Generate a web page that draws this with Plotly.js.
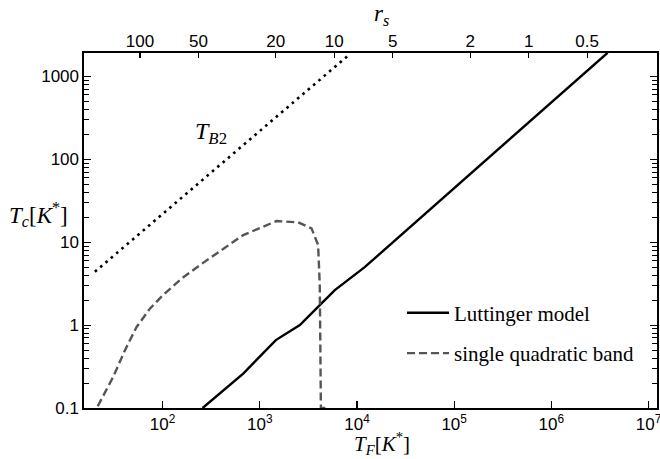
<!DOCTYPE html>
<html>
<head>
<meta charset="utf-8">
<script src="https://cdn.plot.ly/plotly-3.0.1.min.js"></script>
<style>html,body{margin:0;padding:0;background:#fff}#chart{width:660px;height:459px}</style>
</head>
<body>
<div id="chart"></div>
<script>
// Luttinger model (solid)
const lutTF = [258, 675, 1462, 2582, 4140, 5915, 12000, 3.79e6];
const lutTc = [0.1, 0.26, 0.66, 1.0, 1.74, 2.64, 5.0, 1930];
// single quadratic band (dashed)
const sqbTF = [21.5, 31, 41.7, 54, 74, 101, 155, 242, 675, 1486, 2477, 3405, 3981, 4140, 4200, 4250, 4850];
const sqbTc = [0.105, 0.237, 0.52, 0.95, 1.58, 2.3, 3.6, 5.3, 12.2, 18.0, 17.4, 14.7, 9.25, 3.0, 0.5, 0.1, 0.1];
// T_B2 (dotted)
const tb2TF = [20.1, 8300];
const tb2Tc = [4.4, 1830];
// bottom axis ticks
const xTickVals = [1e2, 1e3, 1e4, 1e5, 1e6, 1e7];
const xTickText = ['10<sup>2</sup>', '10<sup>3</sup>', '10<sup>4</sup>', '10<sup>5</sup>', '10<sup>6</sup>', '10<sup>7</sup>'];
// top axis: r_s values and corresponding T_F positions
const rsLabels = ['100', '50', '20', '10', '5', '2', '1', '0.5'];
const rsTF = [58.4, 233.6, 1460, 5840, 23360, 146000, 584000, 2336000];
// y ticks
const yTickVals = [0.1, 1, 10, 100, 1000];
const yTickText = ['0.1', '1', '10', '100', '1000'];
const yMinorVals = [0.2,0.3,0.4,0.5,0.6,0.7,0.8,0.9, 2,3,4,5,6,7,8,9, 20,30,40,50,60,70,80,90, 200,300,400,500,600,700,800,900];

const serif = 'Liberation Serif, DejaVu Serif, serif';
const sans = 'Liberation Sans, Arial, sans-serif';
const xr = [1.191, 7.087];
const yr = [-1, 3.283];

const traces = [
  {x: tb2TF, y: tb2Tc, mode: 'lines', line: {color: '#000', width: 2.6, dash: '2.6px,4.4px'}, showlegend: false, hoverinfo: 'skip'},
  {x: lutTF, y: lutTc, mode: 'lines', name: 'Luttinger model', legendgroup: 'a', line: {color: '#000', width: 2.4}},
  {x: sqbTF, y: sqbTc, mode: 'lines', name: 'single quadratic band', legendgroup: 'b', line: {color: '#555', width: 2.4, dash: '8px,4px'}},
  {x: rsTF, y: rsTF.map(() => 1), xaxis: 'x2', mode: 'lines', line: {width: 0}, showlegend: false, hoverinfo: 'skip'},
  {x: yMinorVals.map(() => 100), y: yMinorVals, yaxis: 'y2', mode: 'lines', line: {width: 0}, showlegend: false, hoverinfo: 'skip'},
  {x: yMinorVals.map(() => 100), y: yMinorVals, yaxis: 'y3', mode: 'lines', line: {width: 0}, showlegend: false, hoverinfo: 'skip'}
];

const minorAxis = (side) => ({type: 'log', range: yr, overlaying: 'y', side: side, anchor: 'x', showgrid: false, zeroline: false,
  showline: false, ticks: 'inside', ticklen: 5, tickwidth: 1, tickcolor: '#000', tickmode: 'array', tickvals: yMinorVals, showticklabels: false});

const layout = {
  width: 660, height: 459,
  margin: {l: 84, r: 3, t: 53, b: 51},
  paper_bgcolor: '#fff', plot_bgcolor: '#fff',
  showlegend: true,
  legend: {x: 0.555, y: 0.325, xanchor: 'left', yanchor: 'top', bgcolor: 'rgba(0,0,0,0)', itemwidth: 42,
           font: {family: serif, size: 21, color: '#000'}, tracegroupgap: 10, traceorder: 'grouped'},
  xaxis: {type: 'log', range: xr, showgrid: false, zeroline: false, showline: true, linecolor: '#000', linewidth: 1.6,
          mirror: true, ticks: 'inside', ticklen: 7, tickwidth: 1.2, tickcolor: '#000', ticklabeloverflow: 'allow',
          tickvals: xTickVals, ticktext: xTickText, tickfont: {family: sans, size: 17, color: '#000'}},
  xaxis2: {type: 'log', range: xr, overlaying: 'x', side: 'top', showgrid: false, zeroline: false, showline: false,
           ticks: 'inside', ticklen: 5, tickwidth: 1.2, tickcolor: '#000', ticklabelstandoff: 2,
           tickvals: rsTF, ticktext: rsLabels, tickfont: {family: sans, size: 17, color: '#000'}},
  yaxis: {type: 'log', range: yr, showgrid: false, zeroline: false, showline: true, linecolor: '#000', linewidth: 1.6,
          mirror: 'ticks', ticks: 'inside', ticklen: 7, tickwidth: 1.2, tickcolor: '#000',
          tickvals: yTickVals, ticktext: yTickText, tickfont: {family: sans, size: 17, color: '#000'}},
  yaxis2: minorAxis('left'),
  yaxis3: minorAxis('right'),
  annotations: [
    {xref: 'paper', yref: 'paper', x: 0.52, y: 1.0, yshift: 38, xanchor: 'center', yanchor: 'middle', showarrow: false,
     text: '<i>r<sub>s</sub></i>', font: {family: serif, size: 23, color: '#000'}},
    {xref: 'paper', yref: 'paper', x: 0.52, y: 0, yshift: -35, xanchor: 'center', yanchor: 'middle', showarrow: false,
     text: '<i>T<sub>F</sub></i>[<i>K</i><sup>*</sup>]', font: {family: serif, size: 21, color: '#000'}},
    {xref: 'paper', yref: 'paper', x: 0, xshift: -77, y: 0.545, xanchor: 'left', yanchor: 'middle', showarrow: false,
     text: '<i>T<sub>c</sub></i>[<i>K</i><sup>*</sup>]', font: {family: serif, size: 23, color: '#000'}},
    {xref: 'paper', yref: 'paper', x: 0.222, y: 0.775, xanchor: 'center', yanchor: 'middle', showarrow: false,
     text: '<i>T<sub>B</sub></i><sub>2</sub>', font: {family: serif, size: 24, color: '#000'}}
  ]
};

Plotly.newPlot('chart', traces, layout, {staticPlot: true, displayModeBar: false});
</script>
</body>
</html>
